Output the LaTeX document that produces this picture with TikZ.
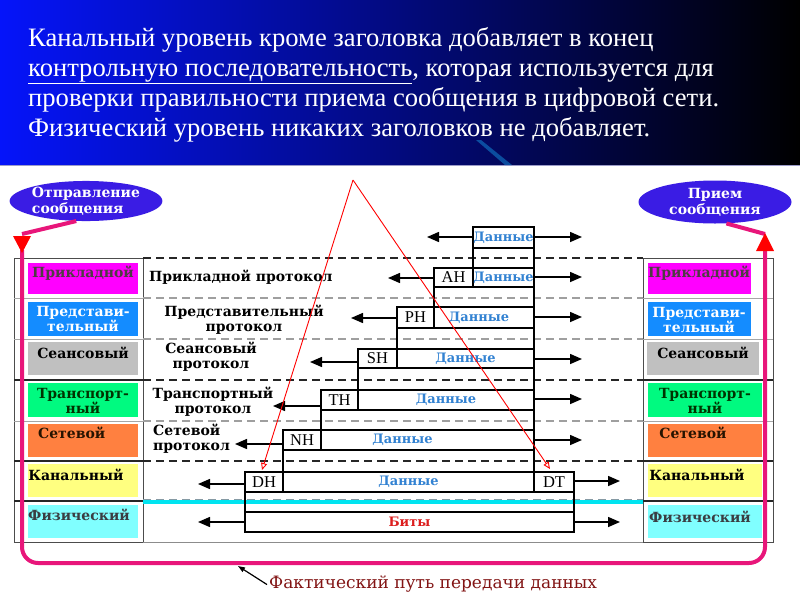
\documentclass[tikz,border=0pt]{standalone}
\usepackage{fontspec}
\setmainfont{Liberation Serif}
\newfontfamily\lserif{Liberation Serif}
\newfontfamily\djs{DejaVu Serif}
\usetikzlibrary{arrows.meta,shapes.geometric,calc}
\definecolor{pinkp}{RGB}{232,22,122}
\definecolor{ellblue}{RGB}{58,28,228}
\definecolor{cmag}{RGB}{255,0,255}
\definecolor{cpblue}{RGB}{20,140,255}
\definecolor{cgray}{RGB}{192,192,192}
\definecolor{cgreen}{RGB}{0,250,128}
\definecolor{corange}{RGB}{255,128,64}
\definecolor{cyellow}{RGB}{255,255,128}
\definecolor{ccyan}{RGB}{128,255,255}
\definecolor{cline}{RGB}{0,228,240}
\definecolor{datab}{RGB}{50,130,210}
\definecolor{bitsr}{RGB}{220,30,30}
\definecolor{dred}{RGB}{130,20,20}
\definecolor{bannerA}{RGB}{5,20,250}
\definecolor{bannerB}{RGB}{0,0,120}
\begin{document}
\begin{tikzpicture}[x=1pt,y=-1pt,
  lbl/.style={font=\djs\bfseries\fontsize{14}{15}\selectfont, inner sep=0pt},
  cell/.style={draw=black, line width=1.2pt, anchor=north west, inner sep=0pt, outer sep=0pt},
  hdr/.style={cell, font=\lserif\fontsize{16.5}{16}\selectfont},
  dat/.style={cell, font=\djs\bfseries\fontsize{13}{13}\selectfont, text=datab},
  arr/.style={line width=1.5pt, -{Triangle[length=12pt,width=10pt]}},
  gdash/.style={draw=gray!75, line width=1.3pt, dash pattern=on 8pt off 5pt},
  bdash/.style={draw=black!85, line width=1.6pt, dash pattern=on 8pt off 5pt},
  lbox/.style={anchor=north west, inner sep=0pt, outer sep=0pt},
  ltext/.style={font=\djs\bfseries\fontsize{14}{15}\selectfont, align=center, inner sep=0pt},
  ell/.style={ellipse, fill=ellblue, text=white, inner sep=0pt, font=\djs\bfseries\fontsize{14}{16}\selectfont},
  btext/.style={anchor=base west, text=white, inner sep=0pt, font=\lserif\fontsize{26.6}{30}\selectfont},
  pinkl/.style={draw=pinkp, line width=4pt},
  redl/.style={draw=red, line width=0.9pt, -{Triangle[open,length=7pt,width=6pt]}}]
\useasboundingbox (0,0) rectangle (800,600);
\fill[white] (0,0) rectangle (800,600);
% banner
\shade[left color=bannerA, middle color=bannerB, right color=black] (0,0) rectangle (800,165);
\draw[color=blue!30!gray!60, line width=1pt] (0,165.5) -- (800,165.5);
\fill[cyan!60!blue, opacity=0.6] (476,140) -- (481,140) -- (512,165) -- (505,165) -- cycle;
\node[btext] (t1) at (28,46) {Канальный уровень кроме заголовка добавляет в конец};
\node[btext] (t2) at (28,76) {\underline{контрольную последовательность}, которая используется для};
\node[btext] (t3) at (28,106) {проверки правильности приема сообщения в цифровой сети.};
\node[btext] (t4) at (28,136) {Физический уровень никаких заголовков не добавляет.};

% colored boxes left
\node[lbox, fill=cmag, minimum width=110pt, minimum height=31pt] (lb7) at (28,263) {};
\node[lbox, fill=cpblue, minimum width=110pt, minimum height=34pt] (lb6) at (28,302) {};
\node[lbox, fill=cgray, minimum width=110pt, minimum height=33pt] (lb5) at (28,342) {};
\node[lbox, fill=cgreen, minimum width=110pt, minimum height=34pt] (lb4) at (28,383) {};
\node[lbox, fill=corange, minimum width=110pt, minimum height=33pt] (lb3) at (28,424) {};
\node[lbox, fill=cyellow, minimum width=110pt, minimum height=33pt] (lb2) at (28,464) {};
\node[lbox, fill=ccyan, minimum width=110pt, minimum height=33pt] (lb1) at (28,505) {};
% colored boxes right
\node[lbox, fill=cmag, minimum width=103pt, minimum height=31pt] (rb7) at (648,263) {};
\node[lbox, fill=cpblue, minimum width=103pt, minimum height=34pt] (rb6) at (648,302) {};
\node[lbox, fill=cgray, minimum width=112pt, minimum height=33pt] (rb5) at (647,342) {};
\node[lbox, fill=cgreen, minimum width=114pt, minimum height=34pt] (rb4) at (648,383) {};
\node[lbox, fill=corange, minimum width=114pt, minimum height=33pt] (rb3) at (648,424) {};
\node[lbox, fill=cyellow, minimum width=114pt, minimum height=33pt] (rb2) at (648,464) {};
\node[lbox, fill=ccyan, minimum width=114pt, minimum height=33pt] (rb1) at (648,505) {};

% labels left
\node[ltext, text=black!80!magenta] (ll7) at (83,273) {Прикладной};
\node[ltext, text=white] (ll6) at (83,319) {Представи-\\тельный};
\node[ltext, text=black] (ll5) at (83,353) {Сеансовый};
\node[ltext, text=black!80!green] (ll4) at (83,401) {Транспорт-\\ный};
\node[ltext, text=black!85!orange, anchor=west] (ll3) at (38,433) {Сетевой};
\node[ltext, text=black] (ll2) at (76,475) {Канальный};
\node[ltext, text=black!85!cyan] (ll1) at (79,515) {Физический};
% labels right
\node[ltext, text=black!80!magenta] (rl7) at (699,273) {Прикладной};
\node[ltext, text=white] (rl6) at (699,320) {Представи-\\тельный};
\node[ltext, text=black] (rl5) at (703,353) {Сеансовый};
\node[ltext, text=black!80!green] (rl4) at (705,401) {Транспорт-\\ный};
\node[ltext, text=black!85!orange] (rl3) at (693,433) {Сетевой};
\node[ltext, text=black] (rl2) at (697,475) {Канальный};
\node[ltext, text=black!85!cyan] (rl1) at (700,517) {Физический};

% table frame
\draw[black!70, line width=1pt] (14,258) rectangle (143,542);
\draw[black!70, line width=1pt] (643,258) rectangle (773,542);
\draw[black!45, line width=0.8pt] (143,542) -- (643,542);
\foreach \y in {298,339,421} {
  \draw[gray!70, line width=1pt] (14,\y) -- (143,\y);
  \draw[gray!70, line width=1pt] (643,\y) -- (773,\y);
}
\foreach \y in {380,461} {
  \draw[black!85, line width=1.6pt] (14,\y) -- (143,\y);
  \draw[black!85, line width=1.6pt] (643,\y) -- (773,\y);
}
\draw[black!85, line width=2pt] (14,501) -- (143,501);
\draw[black!85, line width=1.4pt] (643,501) -- (773,501);
% middle dividers
\draw[bdash] (143,258) -- (643,258);
\draw[gdash] (143,298) -- (643,298);
\draw[gdash] (143,339) -- (643,339);
\draw[bdash] (143,380) -- (643,380);
\draw[gdash] (143,421) -- (643,421);
\draw[bdash] (143,461) -- (643,461);
\draw[cline, line width=3.5pt] (143,502) -- (643,502);
\draw[gray!80!cyan, line width=1pt, dash pattern=on 8pt off 5pt] (143,499) -- (643,499);

% protocol labels
\node[lbl, anchor=west] (p7) at (149,277) {Прикладной протокол};
\node[ltext] (p6) at (244,320) {Представительный\\протокол};
\node[ltext] (p5) at (211,357) {Сеансовый\\протокол};
\node[ltext] (p4) at (213,402) {Транспортный\\протокол};
\node[ltext, align=left, anchor=west] (p3) at (153,439) {Сетевой\\протокол};

% data blocks
\node[dat, minimum width=61pt, minimum height=21pt] (d7) at (473,227) {Данные};
\node[cell, minimum width=61pt, minimum height=20pt] (e7) at (473,248) {};
\node[hdr, minimum width=39pt, minimum height=19pt] (ah) at (434,268) {AH};
\node[dat, minimum width=61pt, minimum height=19pt] (d6) at (473,268) {Данные};
\node[cell, minimum width=100pt, minimum height=20pt] (e6) at (434,287) {};
\node[hdr, minimum width=37pt, minimum height=21pt] (ph) at (397,307) {PH};
\node[dat, minimum width=100pt, minimum height=21pt] (d5) at (434,307) {\hspace*{-10pt}Данные};
\node[cell, minimum width=137pt, minimum height=21pt] (e5) at (397,328) {};
\node[hdr, minimum width=39pt, minimum height=19pt] (sh) at (358,349) {SH};
\node[dat, minimum width=137pt, minimum height=19pt] (d4) at (397,349) {Данные};
\node[cell, minimum width=176pt, minimum height=22pt] (e4) at (358,368) {};
\node[hdr, minimum width=37pt, minimum height=20pt] (th) at (321,390) {TH};
\node[dat, minimum width=176pt, minimum height=20pt] (d3) at (358,390) {Данные};
\node[cell, minimum width=213pt, minimum height=20pt] (e3) at (321,410) {};
\node[hdr, minimum width=38pt, minimum height=20pt] (nh) at (283,430) {NH};
\node[dat, minimum width=213pt, minimum height=20pt] (d2) at (321,430) {\hspace*{-50pt}Данные};
\node[cell, minimum width=251pt, minimum height=22pt] (e2) at (283,450) {};
\node[hdr, minimum width=38pt, minimum height=20pt] (dh) at (245,472) {DH};
\node[dat, minimum width=251pt, minimum height=20pt] (d1) at (283,472) {Данные};
\node[hdr, minimum width=40pt, minimum height=20pt] (dt) at (534,472) {DT};
\node[cell, minimum width=329pt, minimum height=20pt] (e1) at (245,492) {};
\node[dat, text=bitsr, minimum width=329pt, minimum height=20pt] (bits) at (245,512) {Биты};

% arrow ends
\coordinate (a7l) at (427,237); \coordinate (a7r) at (582,237);
\coordinate (a6l) at (388,278); \coordinate (a6r) at (582,277);
\coordinate (a5l) at (351,318); \coordinate (a5r) at (582,317);
\coordinate (a4l) at (310,362); \coordinate (a4r) at (582,359);
\coordinate (a3l) at (273,406); \coordinate (a3r) at (582,399);
\coordinate (a2l) at (235,444); \coordinate (a2r) at (582,440);
\coordinate (a1l) at (198,484); \coordinate (a1r) at (620,481);
\coordinate (a0l) at (198,522); \coordinate (a0r) at (620,522);
\draw[arr] (d7.west |- a7l) -- (a7l);
\draw[arr] (d7.east |- a7r) -- (a7r);
\draw[arr] (ah.west |- a6l) -- (a6l);
\draw[arr] (d6.east |- a6r) -- (a6r);
\draw[arr] (ph.west |- a5l) -- (a5l);
\draw[arr] (d5.east |- a5r) -- (a5r);
\draw[arr] (sh.west |- a4l) -- (a4l);
\draw[arr] (e4.east |- a4r) -- (a4r);
\draw[arr] (th.west |- a3l) -- (a3l);
\draw[arr] (d3.east |- a3r) -- (a3r);
\draw[arr] (nh.west |- a2l) -- (a2l);
\draw[arr] (d2.east |- a2r) -- (a2r);
\draw[arr] (dh.west |- a1l) -- (a1l);
\draw[arr] (dt.east |- a1r) -- (a1r);
\draw[arr] (bits.west |- a0l) -- (a0l);
\draw[arr] (bits.east |- a0r) -- (a0r);

% red triangle
\coordinate (apex) at (353,180);
\draw[redl] (apex) -- ($(dh.north)+(-2,-2)$);
\draw[redl] (apex) -- ($(dt.north)+(-4,-3)$);

% ellipses
\node[ell, minimum width=152pt, minimum height=38pt, align=left] (send) at (86,201) {Отправление\\сообщения};
\node[ell, minimum width=153pt, minimum height=43pt, align=center] (recv) at (715,202) {Прием\\сообщения};

% pink path
\coordinate (pl) at (22,234);
\coordinate (pr) at (765,234);
\draw[pinkl] (send.244) -- (pl);
\draw[pinkl, rounded corners=16pt] (22,250) -- (22,563) -- (765,563) -- (765,250);
\draw[pinkl] (recv.298) -- (pr);
\fill[red] (13,236) -- (31,236) -- (22,253) -- cycle;
\fill[red] (756,251) -- (774,251) -- (765,233) -- cycle;

% bottom label
\node[anchor=base west, inner sep=0pt, text=dred, font=\djs\fontsize{17}{18}\selectfont] (fact) at (269,588) {Фактический путь передачи данных};
\coordinate (fp) at (238,566);
\draw[line width=1.2pt, -{Triangle[length=7pt,width=5pt]}] ($(fact.west)+(-2,1)$) -- (fp);
\end{tikzpicture}
\end{document}
